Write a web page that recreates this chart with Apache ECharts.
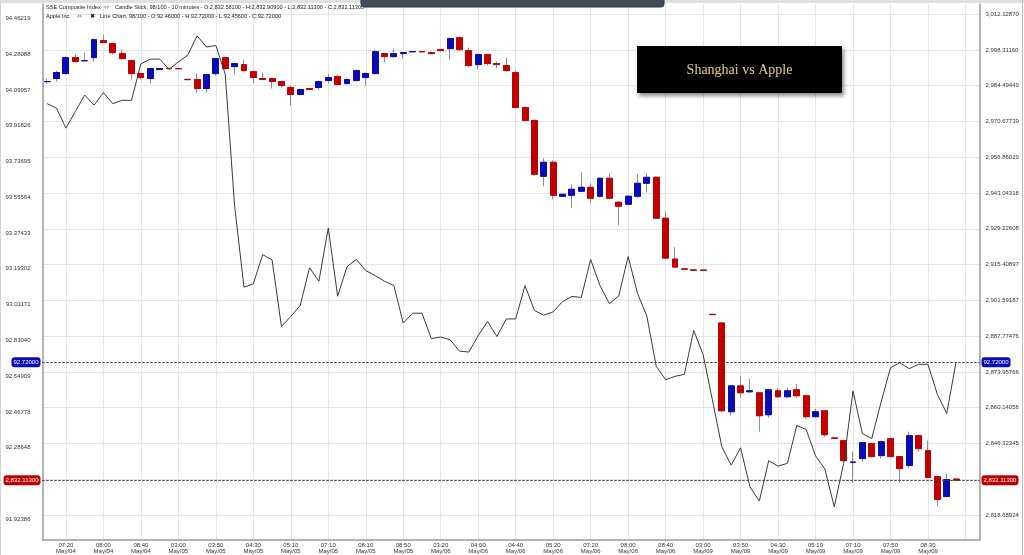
<!DOCTYPE html>
<html><head><meta charset="utf-8">
<script src="https://cdn.jsdelivr.net/npm/echarts@6/dist/echarts.min.js"></script>
<style>html,body{margin:0;padding:0;background:#fff}#c{width:1024px;height:555px}</style>
</head><body><div id="c"></div>
<script>
// ---- tick labels ----
const xTickLabels = ['07:20\nMay/04','08:00\nMay/04','08:40\nMay/04','03:00\nMay/05','03:50\nMay/05','04:30\nMay/05',
  '05:10\nMay/05','07:10\nMay/05','08:10\nMay/05','08:50\nMay/05','03:20\nMay/06','04:00\nMay/06','04:40\nMay/06',
  '05:20\nMay/06','07:20\nMay/06','08:00\nMay/06','08:40\nMay/06','03:00\nMay/09','03:50\nMay/09','04:30\nMay/09',
  '05:10\nMay/09','07:10\nMay/09','07:50\nMay/09','08:30\nMay/09'];
const leftTickLabels = ['91.92386','92.10517','92.28648','92.46778','92.64909','92.83040','93.01171','93.19302',
  '93.37433','93.55564','93.73695','93.91826','94.09957','94.28088','94.46219'];
const rightTickLabels = ['2,818.68924','2,832.50634','2,846.32345','2,860.14056','2,873.95766','2,887.77476',
  '2,901.59187','2,915.40897','2,929.22608','2,943.04318','2,956.86029','2,970.67739','2,984.49449','2,998.31160','3,012.12870'];

// ---- SSE Composite Index, 10-minute candles ----
const sseOpen = [2986.07,2987.28,2989.20,2995.37,2994.16,2995.37,3001.92,3000.76,2996.91,2994.21,
  2989.20,2987.28,2990.74,2991.20,2991.15,2986.95,2986.89,2983.42,2989.20,2995.37,
  2991.90,2992.67,2989.97,2987.28,2987.28,2986.12,2983.81,2981.11,2983.42,2983.81,
  2986.51,2988.05,2985.35,2986.51,2987.66,2989.20,2996.91,2995.75,2996.91,2997.63,
  2997.70,2997.29,2998.45,2998.83,3003.07,2998.07,2992.67,2996.52,2993.06,2992.29,
  2989.59,2976.10,2971.09,2949.51,2954.93,2941.81,2942.19,2943.73,2945.27,2941.81,
  2948.75,2939.50,2938.73,2941.81,2946.82,2949.13,2933.33,2917.54,2913.75,2913.35,
  2913.30,2896.20,2892.87,2858.59,2868.57,2866.29,2865.90,2857.43,2866.68,2864.37,
  2867.06,2864.75,2856.66,2858.97,2848.45,2847.41,2839.08,2840.48,2846.26,2841.63,
  2848.18,2841.25,2837.79,2849.34,2843.56,2833.54,2825.83,2832.581];
const sseClose = [2986.12,2989.59,2995.37,2993.83,2994.21,3002.30,3001.15,2997.29,2994.98,2989.20,
  2987.66,2991.13,2991.13,2991.10,2991.05,2986.85,2983.42,2988.82,2994.98,2991.13,
  2993.06,2990.36,2987.66,2986.89,2986.12,2984.58,2981.11,2983.04,2983.04,2986.12,
  2987.66,2984.97,2986.89,2990.36,2989.20,2997.68,2995.75,2996.91,2997.29,2997.68,
  2997.60,2996.91,2998.07,3002.69,2998.45,2992.29,2996.52,2993.06,2992.67,2990.36,
  2976.10,2971.09,2950.29,2954.93,2942.19,2942.58,2944.50,2945.27,2941.04,2948.75,
  2941.04,2937.96,2941.81,2946.82,2949.13,2933.33,2917.92,2914.46,2913.65,2913.25,
  2913.20,2896.10,2858.97,2868.57,2865.90,2866.68,2857.05,2867.06,2864.37,2866.68,
  2864.75,2856.66,2858.59,2849.72,2848.35,2839.71,2839.13,2846.64,2841.25,2847.03,
  2841.25,2836.63,2849.34,2844.33,2833.15,2824.68,2832.39,2832.113];
const sseLow = [2985.35,2986.12,2988.82,2993.44,2993.83,2993.83,3001.00,2996.52,2994.60,2986.89,
  2986.89,2985.35,2990.74,2991.00,2991.00,2986.80,2981.88,2981.88,2988.43,2990.74,
  2988.82,2989.59,2985.35,2986.80,2983.42,2983.81,2976.87,2980.73,2982.90,2982.65,
  2985.35,2984.58,2984.97,2986.12,2984.58,2988.82,2993.44,2995.37,2994.98,2997.60,
  2997.55,2996.85,2998.00,2994.60,2998.07,2991.90,2990.74,2992.29,2991.13,2989.97,
  2975.72,2970.70,2949.90,2945.66,2940.65,2941.60,2937.19,2943.60,2939.11,2941.42,
  2940.90,2930.64,2938.34,2941.04,2943.35,2933.20,2917.54,2914.07,2913.60,2913.20,
  2913.15,2896.05,2858.59,2857.05,2863.98,2865.90,2850.88,2856.27,2863.98,2863.98,
  2863.98,2855.89,2856.27,2848.95,2848.30,2839.60,2831.23,2839.32,2840.86,2840.48,
  2841.10,2831.23,2836.63,2843.17,2833.00,2821.98,2825.45,2832.113];
const sseHigh = [2987.28,2990.36,2995.75,2996.52,2997.29,3002.69,3004.23,3001.15,2998.45,2994.60,
  2989.59,2991.51,2991.13,2991.30,2991.20,2987.00,2989.20,2989.20,2995.37,2995.75,
  2993.44,2994.60,2990.36,2989.59,2987.66,2986.51,2984.58,2983.42,2983.50,2986.51,
  2989.20,2988.82,2987.28,2990.74,2989.59,2998.45,2997.10,2998.83,2997.68,2997.70,
  2997.75,2997.35,2998.50,3003.07,3003.46,2999.22,2996.91,2996.91,2993.83,2995.37,
  2990.36,2976.49,2971.48,2956.47,2955.68,2942.70,2946.43,2951.06,2946.82,2949.13,
  2950.67,2939.88,2942.19,2950.29,2950.67,2949.51,2936.03,2922.16,2913.80,2913.40,
  2913.35,2896.25,2893.00,2868.99,2872.46,2871.30,2866.00,2867.45,2867.80,2867.80,
  2869.37,2865.20,2859.74,2859.00,2848.50,2847.80,2843.17,2846.70,2846.64,2847.41,
  2848.57,2841.30,2850.88,2849.72,2847.41,2833.60,2834.70,2832.909];

// ---- Apple Inc. line ----
const appleClose = [94.030,94.007,93.906,93.990,94.074,94.023,94.086,94.030,94.047,94.047,
  94.232,94.256,94.256,94.204,94.242,94.276,94.374,94.317,94.325,94.180,
  93.513,93.100,93.117,93.265,93.238,92.901,92.952,93.007,93.198,93.130,
  93.400,93.054,93.204,93.241,93.184,93.159,93.130,93.108,92.918,92.968,
  92.968,92.839,92.847,92.834,92.776,92.771,92.855,92.926,92.850,92.939,
  92.939,93.108,92.982,92.958,92.975,93.027,93.053,93.048,93.240,93.108,
  93.016,93.056,93.255,93.069,92.953,92.699,92.631,92.648,92.658,92.881,
  92.759,92.527,92.291,92.198,92.286,92.088,92.016,92.220,92.193,92.207,
  92.399,92.379,92.245,92.178,91.987,92.207,92.574,92.358,92.333,92.518,
  92.692,92.717,92.687,92.709,92.709,92.557,92.460,92.720];

const SLOTS = 100;
const cats = Array.from({length: SLOTS}, (_, i) => String(i));
const isLabelIdx = (i) => i >= 2 && (i - 2) % 4 === 0;

const R_INT = 13.817104;
const R_MIN = +(2818.68924 - R_INT).toFixed(6);
const R_MAX = +(R_MIN + 15 * R_INT).toFixed(6);
const L_INT = 0.181309;
const L_MIN = +(91.92386 - L_INT).toFixed(6);
const L_MAX = +(L_MIN + 15 * L_INT).toFixed(6);

const wickData = sseOpen.map((o, i) => [o, sseClose[i], sseLow[i], sseHigh[i]]);
const bodyData = sseOpen.map((o, i) => [o, sseClose[i], Math.min(o, sseClose[i]), Math.max(o, sseClose[i])]);

const lastSse = sseClose[sseClose.length - 1];
const lastApple = appleClose[appleClose.length - 1];
const fmt5 = (v) => v.toLocaleString('en-US', {minimumFractionDigits: 5, maximumFractionDigits: 5});

const FONT = 'Liberation Sans';
const BLUE = '#0b0bb5', RED = '#c20000', WICK = '#8f8f8f', GRID = '#e6e6e6', AXIS = '#9a9a9a';

const plotL = 42.5, plotW = 937;
const hiddenX = (gi) => ({type:'category', gridIndex: gi, data: cats, boundaryGap: true, show: false});

function mlLabel(bg, text) {
  return {show: true, formatter: text, color: '#fff', backgroundColor: bg, borderRadius: 3,
    padding: [2, 2, 2, 2], fontSize: 6, fontFamily: FONT, distance: 2};
}

const option = {
  animation: false,
  textStyle: {fontFamily: FONT},
  grid: [
    {left: plotL, width: plotW, top: 4, height: 536},
    {left: plotL, width: plotW, top: 14.2, height: 536.6},
    {left: plotL, width: plotW, top: 18.4, height: 536.6}
  ],
  xAxis: [
    {type: 'category', gridIndex: 0, data: cats, boundaryGap: true,
      axisLine: {onZero: false, lineStyle: {color: AXIS, width: 1.5}},
      axisTick: {show: false},
      axisLabel: {interval: (i) => isLabelIdx(i), margin: 2, fontSize: 6, lineHeight: 6.5, color: '#333',
        formatter: (v, i) => xTickLabels[(i - 2) / 4] || ''},
      splitLine: {show: true, alignWithLabel: true, interval: (i) => isLabelIdx(i), lineStyle: {color: GRID, width: 1}}},
    hiddenX(1),
    hiddenX(2)
  ],
  yAxis: [
    {type: 'value', gridIndex: 0, position: 'left', min: 0, max: 1,
      axisLine: {show: true, lineStyle: {color: AXIS, width: 1.5}}, axisTick: {show: false},
      axisLabel: {show: false}, splitLine: {show: false}},
    {type: 'value', gridIndex: 0, position: 'right', min: 0, max: 1,
      axisLine: {show: true, lineStyle: {color: AXIS, width: 1.5}}, axisTick: {show: false},
      axisLabel: {show: false}, splitLine: {show: false}},
    {type: 'value', gridIndex: 1, position: 'right', min: R_MIN, max: R_MAX, interval: R_INT, scale: true,
      axisLine: {show: false}, axisTick: {show: false},
      axisLabel: {margin: 6, fontSize: 6, color: '#333', showMinLabel: false,
        formatter: (v) => rightTickLabels[Math.round((v - R_MIN) / R_INT) - 1] || ''},
      splitLine: {show: true, showMinLine: false, lineStyle: {color: GRID, width: 1}}},
    {type: 'value', gridIndex: 2, position: 'left', min: L_MIN, max: L_MAX, interval: L_INT, scale: true,
      axisLine: {show: false}, axisTick: {show: false},
      axisLabel: {margin: 12, fontSize: 6, color: '#333', showMinLabel: false,
        formatter: (v) => leftTickLabels[Math.round((v - L_MIN) / L_INT) - 1] || ''},
      splitLine: {show: false}}
  ],
  series: [
    {name: 'SSE wicks', type: 'candlestick', xAxisIndex: 1, yAxisIndex: 2, data: wickData,
      barWidth: 6.4, silent: true,
      itemStyle: {color: WICK, color0: WICK, borderColor: WICK, borderColor0: WICK, borderWidth: 1}},
    {name: 'SSE Composite Index', type: 'candlestick', xAxisIndex: 1, yAxisIndex: 2, data: bodyData,
      barWidth: 6.4, silent: true, z: 3,
      itemStyle: {color: BLUE, color0: RED, borderColor: BLUE, borderColor0: RED, borderWidth: 1},
      markLine: {symbol: 'none', silent: true, animation: false, z: 10,
        lineStyle: {color: '#444', type: [2, 2], width: 1},
        data: [
          {yAxis: lastSse, label: Object.assign(mlLabel(RED, fmt5(lastSse)), {position: 'start'})},
          {yAxis: lastSse, label: Object.assign(mlLabel(RED, fmt5(lastSse)), {position: 'end'})}
        ]}},
    {name: 'Apple Inc.', type: 'line', xAxisIndex: 2, yAxisIndex: 3, data: appleClose,
      showSymbol: false, silent: true, z: 4,
      lineStyle: {color: '#3a3a3a', width: 1},
      markLine: {symbol: 'none', silent: true, animation: false, z: 10,
        lineStyle: {color: '#444', type: [2, 2], width: 1},
        data: [
          {yAxis: lastApple, label: Object.assign(mlLabel(BLUE, lastApple.toFixed(5)), {position: 'start'})},
          {yAxis: lastApple, label: Object.assign(mlLabel(BLUE, lastApple.toFixed(5)), {position: 'end'})}
        ]}}
  ],
  graphic: [
    {type: 'rect', silent: true, z: 100, shape: {x: 0, y: 0, width: 1024, height: 3}, style: {fill: '#e0e0e0'}},
    {type: 'rect', silent: true, z: 100, shape: {x: 0.5, y: 0, width: 0, height: 555}, style: {stroke: '#d4d4d4', lineWidth: 1}},
    {type: 'rect', silent: true, z: 100, shape: {x: 1022.5, y: 0, width: 0, height: 555}, style: {stroke: '#bdbdbd', lineWidth: 1}},
    {type: 'text', silent: true, z: 100, x: 46, y: 7, style: {text: 'SSE Composite Index', fontSize: 5.6, fontFamily: FONT, fill: '#222', verticalAlign: 'middle'}},
    {type: 'text', silent: true, z: 100, x: 104, y: 7, style: {text: '⇔', fontSize: 6, fontFamily: 'DejaVu Sans', fill: '#777', verticalAlign: 'middle'}},
    {type: 'text', silent: true, z: 100, x: 115, y: 7, style: {text: 'Candle Stick, 98/100 - 10 minutes - O:2,832.58100 - H:2,832.90900 - L:2,832.11300 - C:2,832.11300', fontSize: 5.6, fontFamily: FONT, fill: '#222', verticalAlign: 'middle'}},
    {type: 'text', silent: true, z: 100, x: 46, y: 16, style: {text: 'Apple Inc.', fontSize: 5.6, fontFamily: FONT, fill: '#222', verticalAlign: 'middle'}},
    {type: 'text', silent: true, z: 100, x: 77, y: 16, style: {text: '⇔', fontSize: 6, fontFamily: 'DejaVu Sans', fill: '#777', verticalAlign: 'middle'}},
    {type: 'text', silent: true, z: 100, x: 90, y: 16, style: {text: '✖', fontSize: 6, fontFamily: 'DejaVu Sans', fill: '#111', verticalAlign: 'middle'}},
    {type: 'text', silent: true, z: 100, x: 100, y: 16, style: {text: 'Line Chart, 98/100 - O:92.46000 - H:92.72000 - L:92.45600 - C:92.72000', fontSize: 5.6, fontFamily: FONT, fill: '#222', verticalAlign: 'middle'}},
    {type: 'rect', silent: true, z: 101, shape: {x: 361, y: -5, width: 303, height: 12, r: 3},
      style: {fill: '#434c55', stroke: '#2e353b', lineWidth: 1}},
    {type: 'rect', silent: true, z: 100, shape: {x: 637, y: 46, width: 205, height: 47},
      style: {fill: '#000', shadowBlur: 4, shadowOffsetX: 2, shadowOffsetY: 3, shadowColor: 'rgba(0,0,0,0.45)'}},
    {type: 'text', silent: true, z: 101, x: 739.5, y: 70, style: {text: 'Shanghai vs Apple', fontSize: 14, fontFamily: 'Liberation Serif',
      fill: '#e6d27c', align: 'center', verticalAlign: 'middle'}}
  ]
};

const chart = echarts.init(document.getElementById('c'));
chart.setOption(option);
</script>
</body></html>
